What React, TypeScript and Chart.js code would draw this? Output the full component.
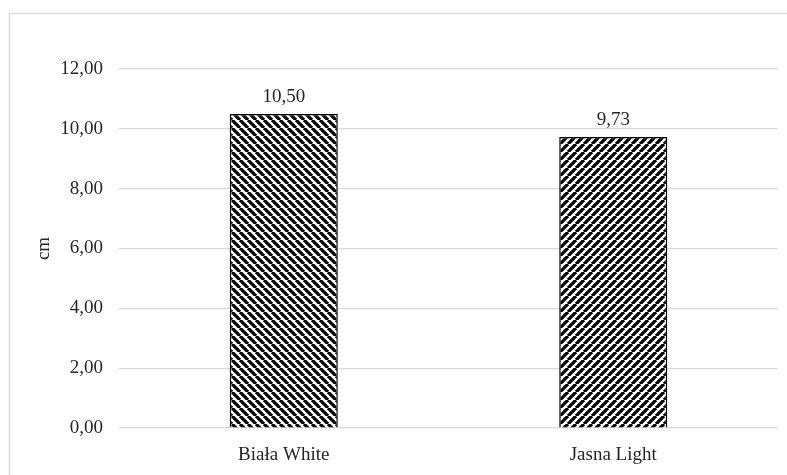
import React, { useEffect, useRef } from "react";
import { Chart, registerables } from "chart.js";

Chart.register(...registerables);

const categories: string[] = ["Biała White", "Jasna Light"];
const values: number[] = [10.5, 9.73];
const yTicks: number[] = [0, 2, 4, 6, 8, 10, 12];

const FONT = "'Liberation Serif', 'Times New Roman', serif";
const TEXT = "#262626";
const GRID = "#d9d9d9";
const SIZE = 19;

const fmt = (v: number) => v.toFixed(2).replace(".", ",");

// Diagonal hatch fill: "back" = lines running top-left to bottom-right
function hatch(dir: "back" | "fwd"): CanvasPattern | string {
  const s = 8;
  const c = document.createElement("canvas");
  c.width = s;
  c.height = s;
  const g = c.getContext("2d");
  if (!g) return "#000";
  g.fillStyle = "#fff";
  g.fillRect(0, 0, s, s);
  g.strokeStyle = "#000";
  g.lineWidth = 3.3;
  g.beginPath();
  if (dir === "back") {
    for (const o of [-s, 0, s]) {
      g.moveTo(o, 0);
      g.lineTo(o + s, s);
    }
  } else {
    for (const o of [-s, 0, s]) {
      g.moveTo(o, s);
      g.lineTo(o + s, 0);
    }
  }
  g.stroke();
  const p = g.createPattern(c, "repeat");
  return p || "#000";
}

const framePlugin = {
  id: "frame",
  beforeDraw(chart: any) {
    const ctx = chart.ctx;
    ctx.save();
    ctx.fillStyle = "#fff";
    ctx.fillRect(0, 0, chart.width, chart.height);
    ctx.strokeStyle = GRID;
    ctx.lineWidth = 1.5;
    ctx.strokeRect(9.5, 13.5, chart.width + 20, chart.height + 20);
    ctx.restore();
  },
};

const valueLabelPlugin = {
  id: "valueLabels",
  afterDatasetsDraw(chart: any) {
    const ctx = chart.ctx;
    const meta = chart.getDatasetMeta(0);
    ctx.save();
    ctx.font = `${SIZE}px ${FONT}`;
    ctx.fillStyle = TEXT;
    ctx.textAlign = "center";
    ctx.textBaseline = "middle";
    meta.data.forEach((bar: any, i: number) => {
      ctx.fillText(fmt(values[i]), bar.x, bar.y - 17);
    });
    ctx.restore();
  },
};

export default function App() {
  const ref = useRef<HTMLCanvasElement>(null);

  useEffect(() => {
    if (!ref.current) return;
    const chart = new Chart(ref.current, {
      type: "bar",
      data: {
        labels: categories,
        datasets: [
          {
            data: values,
            backgroundColor: [hatch("back"), hatch("fwd")] as any,
            borderColor: "#000",
            borderWidth: 1.5,
            categoryPercentage: 1,
            barPercentage: 0.328,
          },
        ],
      },
      options: {
        animation: false,
        responsive: false,
        layout: { padding: { left: 0, right: 9, top: 69, bottom: 0 } },
        plugins: {
          legend: { display: false },
          tooltip: { enabled: false },
        },
        scales: {
          x: {
            grid: { display: false },
            border: { display: false },
            ticks: {
              color: TEXT,
              font: { family: FONT, size: SIZE },
              padding: 8,
            },
            afterFit: (s: any) => {
              s.height = 47;
            },
          },
          y: {
            min: 0,
            max: 12,
            afterBuildTicks: (s: any) => {
              s.ticks = yTicks.map((v) => ({ value: v }));
            },
            grid: { color: GRID, lineWidth: 1.2, drawTicks: false },
            border: { display: false },
            ticks: {
              color: TEXT,
              font: { family: FONT, size: SIZE },
              padding: 16,
              callback: (v: any) => fmt(Number(v)),
            },
            title: {
              display: true,
              text: "cm",
              color: TEXT,
              font: { family: FONT, size: SIZE },
              padding: { top: 33, bottom: 0 },
            },
            afterFit: (s: any) => {
              s.width = 119;
            },
          },
        },
      },
      plugins: [framePlugin, valueLabelPlugin],
    });
    return () => chart.destroy();
  }, []);

  return (
    <canvas
      ref={ref}
      width={787}
      height={475}
      style={{ position: "absolute", left: 0, top: 0, display: "block" }}
    />
  );
}
